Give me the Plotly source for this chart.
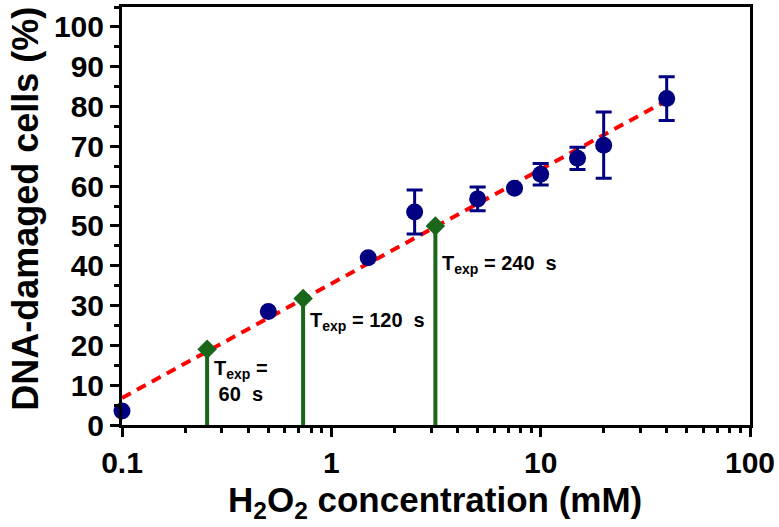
import math
import plotly.graph_objects as go

# measured data
conc = [0.1, 0.5, 1.5, 2.5, 5, 7.5, 10, 15, 20, 40]
damaged = [3.5, 28.5, 42, 53.5, 56.8, 59.5, 63, 67, 70.3, 82]
err = [0, 0, 0, 5.5, 3, 0, 2.7, 2.8, 8.3, 5.5]

# fitted line (log-linear), endpoints
fit_x = [0.1, 40]
fit_y = [6.8, 81.5]

# exposure-time markers
texp_x = [0.255, 0.733, 3.14]
texp_y = [19, 31.8, 50]
texp_labels = ["T<sub>exp</sub> =<br>60&nbsp; s", "T<sub>exp</sub> = 120&nbsp; s", "T<sub>exp</sub> = 240&nbsp; s"]
texp_label_y = [11.0, 26.0, 40.3]

y_ticks = list(range(0, 101, 10))
x_ticks = [0.1, 1, 10, 100]
x_tick_text = ["0.1", "1", "10", "100"]
x_minor = [m * d for d in (0.1, 1, 10) for m in range(2, 10)]

NAVY = "#000080"
GREEN = "#1a661a"
RED = "#ff0000"
FONT = "Liberation Sans"

fig = go.Figure()

# green stems
for xv, yv in zip(texp_x, texp_y):
    fig.add_trace(go.Scatter(x=[xv, xv], y=[0, yv], mode="lines",
                             line=dict(color=GREEN, width=4), showlegend=False,
                             hoverinfo="skip", cliponaxis=False))

# fit line
fig.add_trace(go.Scatter(x=fit_x, y=fit_y, mode="lines",
                         line=dict(color=RED, width=4, dash="10px,7px"),
                         showlegend=False))

# diamonds
fig.add_trace(go.Scatter(x=texp_x, y=texp_y, mode="markers",
                         marker=dict(symbol="diamond", size=15, color=GREEN),
                         showlegend=False))

# data with error bars
fig.add_trace(go.Scatter(x=conc, y=damaged, mode="markers",
                         marker=dict(size=17, color=NAVY),
                         error_y=dict(type="data", array=err, visible=True,
                                      color=NAVY, thickness=3, width=8),
                         showlegend=False, cliponaxis=False))

for xv, yv, txt in zip(texp_x, texp_label_y, texp_labels):
    fig.add_annotation(x=math.log10(xv), y=yv, text=txt, showarrow=False,
                       xanchor="left", yanchor="middle", xshift=5, align="center",
                       font=dict(family=FONT, size=20, color="black", weight="bold"))

fig.add_annotation(xref="paper", yref="paper", x=-0.153, y=0.517, textangle=-90,
                   text="DNA-damaged cells (%)", showarrow=False,
                   xanchor="center", yanchor="middle",
                   font=dict(family=FONT, size=36, color="black", weight="bold"))
fig.add_annotation(xref="paper", yref="paper", x=0.498, y=-0.185,
                   text="H<sub>2</sub>O<sub>2</sub> concentration (mM)", showarrow=False,
                   xanchor="center", yanchor="middle",
                   font=dict(family=FONT, size=35, color="black", weight="bold"))

axis_common = dict(
    showline=True, linecolor="black", linewidth=3, mirror=True,
    ticks="outside", ticklen=9, tickwidth=3, tickcolor="black",
    showgrid=False, zeroline=False, automargin=False,
    tickfont=dict(family=FONT, size=30, color="black", weight="bold"),
)

fig.update_xaxes(type="log", range=[-1, 2], tickvals=x_ticks, ticktext=x_tick_text,
                 minor=dict(tickvals=x_minor, ticks="outside", ticklen=5, tickwidth=2.5,
                            tickcolor="black"),
                 **axis_common)
fig.update_yaxes(range=[0, 105], tickvals=y_ticks,
                 minor=dict(dtick=5, tick0=0, ticks="outside", ticklen=5, tickwidth=2.5,
                            tickcolor="black"),
                 **axis_common)

fig.update_layout(width=779, height=527, margin=dict(l=122, r=29, t=7, b=102),
                  plot_bgcolor="white", paper_bgcolor="white")

fig.write_html("out.html", config={"displayModeBar": False},
               post_script="document.body.style.margin='0';document.body.style.overflow='hidden';")
